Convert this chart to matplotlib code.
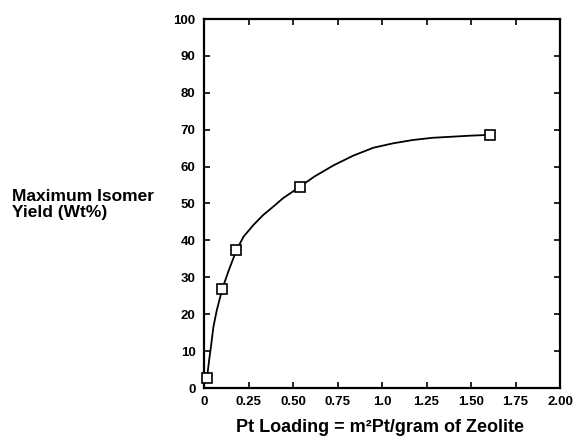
import matplotlib.pyplot as plt

plt.rcParams["font.family"] = ["Liberation Sans", "DejaVu Sans"]

# measured points (open squares)
pt_loading = [0.017, 0.103, 0.182, 0.54, 1.606]
isomer_yield = [2.8, 26.9, 37.3, 54.6, 68.6]

# hand-drawn curve
curve_x = [0.017, 0.029, 0.039, 0.053, 0.072, 0.103, 0.140, 0.182, 0.222,
           0.278, 0.333, 0.388, 0.443, 0.498, 0.54, 0.620, 0.730, 0.840,
           0.951, 1.061, 1.172, 1.282, 1.392, 1.503, 1.606]
curve_y = [2.8, 7.6, 11.2, 16.6, 21.1, 26.9, 32.0, 37.3, 41.0,
           44.2, 46.9, 49.1, 51.4, 53.2, 54.6, 57.3, 60.4, 63.0,
           65.1, 66.3, 67.2, 67.8, 68.1, 68.4, 68.6]

x_ticks = [0, 0.25, 0.5, 0.75, 1.0, 1.25, 1.5, 1.75, 2.0]
x_tick_labels = ["0", "0.25", "0.50", "0.75", "1.0", "1.25", "1.50", "1.75", "2.00"]
y_ticks = list(range(0, 101, 10))

fig = plt.figure(figsize=(5.73, 4.36), dpi=100)
ax = fig.add_axes([204 / 573, 48 / 436, 356 / 573, 369 / 436])

ax.plot(curve_x, curve_y, color="black", lw=1.3, solid_joinstyle="round")
ax.plot(pt_loading, isomer_yield, ls="none", marker="s", ms=6.5,
        mfc="white", mec="black", mew=1.2, clip_on=False, zorder=3)

ax.set_xlim(0, 2.0)
ax.set_ylim(0, 100)
ax.set_xticks(x_ticks)
ax.set_xticklabels(x_tick_labels)
ax.set_yticks(y_ticks)

for s in ax.spines.values():
    s.set_linewidth(1.6)
ax.tick_params(direction="in", length=4, width=1.2, top=True, right=True,
               labelsize=9.5, pad=6)
for lab in ax.get_xticklabels() + ax.get_yticklabels():
    lab.set_fontweight("bold")

fig.text(380 / 573, 4 / 436, "Pt Loading = m\u00b2Pt/gram of Zeolite",
         ha="center", va="baseline", fontsize=13, fontweight="bold")
fig.text(12 / 573, 1 - 201 / 436, "Maximum Isomer", ha="left", va="baseline",
         fontsize=12.5, fontweight="bold")
fig.text(12 / 573, 1 - 217 / 436, "Yield (Wt%)", ha="left", va="baseline",
         fontsize=12.5, fontweight="bold")

fig.savefig("out.png", dpi=100)
